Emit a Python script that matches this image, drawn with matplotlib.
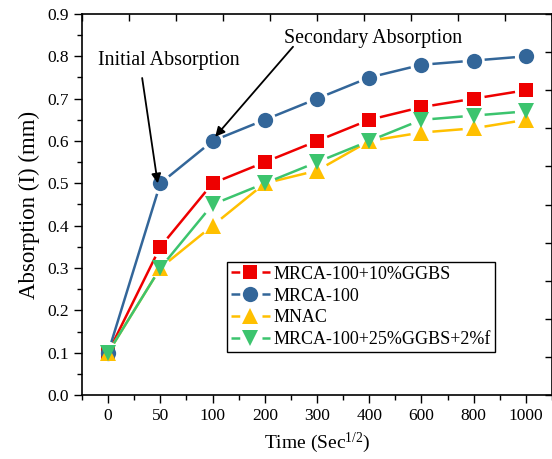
import matplotlib
matplotlib.use("Agg")
import matplotlib.pyplot as plt
from matplotlib.lines import Line2D
from matplotlib.legend_handler import HandlerTuple
import numpy as np

plt.rcParams['font.family'] = ['Liberation Serif', 'DejaVu Serif']
plt.rcParams['mathtext.fontset'] = 'custom'
plt.rcParams['mathtext.rm'] = 'Liberation Serif'
plt.rcParams['mathtext.it'] = 'Liberation Serif:italic'
plt.rcParams['lines.scale_dashes'] = False

categories = ['0', '50', '100', '200', '300', '400', '600', '800', '1000']
ggbs10 = [0.10, 0.35, 0.50, 0.55, 0.60, 0.65, 0.68, 0.70, 0.72]
mrca100 = [0.10, 0.50, 0.60, 0.65, 0.70, 0.75, 0.78, 0.79, 0.80]
mnac = [0.10, 0.30, 0.40, 0.50, 0.53, 0.60, 0.62, 0.63, 0.65]
ggbs25 = [0.10, 0.30, 0.45, 0.50, 0.55, 0.60, 0.65, 0.66, 0.67]

labels = ['MRCA-100+10%GGBS', 'MRCA-100', 'MNAC', 'MRCA-100+25%GGBS+2%f']
colors = ['#ee0000', '#336699', '#ffc000', '#3cc46e']
markers = ['s', 'o', '^', 'v']
series = [ggbs10, mrca100, mnac, ggbs25]
msizes = [10.5, 11, 11.5, 11.5]

DPI = 100
fig = plt.figure(figsize=(5.52, 4.59), dpi=DPI)
rect = [82/552, 1-395/459, (552-82)/552, (395-14)/459]
ax = fig.add_axes(rect)
x = np.arange(len(categories))
ax.set_xlim(-0.5, 8.5)
ax.set_ylim(0, 0.9)

gap = 11.0  # pixels
lw = 1.8

def gapped_line(xs, ys, color):
    pts = ax.transData.transform(np.column_stack([xs, ys]))
    inv = ax.transData.inverted()
    for i in range(len(pts) - 1):
        p0, p1 = pts[i], pts[i + 1]
        d = p1 - p0
        L = np.hypot(*d)
        if L <= 2 * gap:
            continue
        u = d / L
        a = inv.transform(p0 + u * gap)
        b = inv.transform(p1 - u * gap)
        ax.plot([a[0], b[0]], [a[1], b[1]], color=color, lw=lw,
                solid_capstyle='butt', zorder=2)

for ys, c, m, s in zip(series, colors, markers, msizes):
    gapped_line(x, ys, c)
    ax.plot(x, ys, linestyle='none', marker=m, color=c, markersize=s,
            markeredgewidth=0, zorder=3)

ax.set_xticks(x)
ax.set_xticklabels(categories)
ax.set_xticks(np.arange(-0.5, 8.6, 1.0), minor=True)
ax.set_yticks(np.arange(0, 0.91, 0.1))
ax.set_yticklabels([f'{v:.1f}' for v in np.arange(0, 0.91, 0.1)])
ax.set_yticks(np.arange(0.05, 0.9, 0.1), minor=True)
ax.tick_params(axis='both', which='major', direction='out', length=6, width=1,
               labelsize=12.5, top=False, right=False)
ax.tick_params(axis='both', which='minor', direction='out', length=3.5, width=1,
               top=False, right=False)
for s in ax.spines.values():
    s.set_linewidth(1.2)

ax.set_xlabel(r'Time (Sec$^{\mathrm{1/2}}$)', fontsize=14, labelpad=5)
ax.set_ylabel('Absorption (I) (mm)', fontsize=16.5, labelpad=5)

# secondary frame ticks (top/right), inward, unlabeled
ax2 = fig.add_axes(rect, frameon=False)
ax2.set_xlim(0, 1)
ax2.set_ylim(0, 1)
ax2.xaxis.tick_top()
ax2.yaxis.tick_right()
ax2.set_xticks(np.linspace(0, 1, 11))
ax2.set_yticks(np.linspace(0, 1, 11))
ax2.tick_params(axis='both', direction='in', length=5, width=1,
                labeltop=False, labelright=False, labelbottom=False, labelleft=False)
ax2.patch.set_visible(False)

# annotations
ax.text(0.185, 0.879, 'Initial Absorption', transform=ax.transAxes,
        ha='center', va='center', fontsize=14.4)
ax.annotate('', xy=(x[1] - 0.05, mrca100[1]), xycoords='data',
            xytext=(0.128, 0.832), textcoords='axes fraction',
            arrowprops=dict(arrowstyle='-|>', color='k', lw=1.3,
                            mutation_scale=14, shrinkA=0, shrinkB=0))
ax.text(0.619, 0.937, 'Secondary Absorption', transform=ax.transAxes,
        ha='center', va='center', fontsize=14.4)
ax.annotate('', xy=(x[2] + 0.05, mrca100[2] + 0.01), xycoords='data',
            xytext=(0.449, 0.914), textcoords='axes fraction',
            arrowprops=dict(arrowstyle='-|>', color='k', lw=1.3,
                            mutation_scale=14, shrinkA=0, shrinkB=0))

# legend: line with a gap around the marker
fs_leg = 13
hl = 2.2
Lpt = hl * fs_leg
gap_pt = 16.0
on_pt = (Lpt - gap_pt) / 2
handles = []
for c, m, s in zip(colors, markers, msizes):
    ln = Line2D([0], [0], color=c, lw=lw, linestyle=(0, (on_pt, gap_pt)),
                solid_capstyle='butt', dash_capstyle='butt')
    mk = Line2D([0], [0], linestyle='none', marker=m, markersize=s,
                color=c, markeredgewidth=0)
    handles.append((ln, mk))
leg = ax.legend(handles, labels, loc='upper left', bbox_to_anchor=(0.3085, 0.349),
                borderaxespad=0, fontsize=fs_leg, frameon=True, fancybox=False,
                edgecolor='black', framealpha=1, handlelength=hl,
                handletextpad=0.2, labelspacing=0.27, borderpad=0.2,
                handler_map={tuple: HandlerTuple(ndivide=1)})
leg.get_frame().set_linewidth(1.0)
leg.set_zorder(5)

fig.savefig('out.png', dpi=DPI)
